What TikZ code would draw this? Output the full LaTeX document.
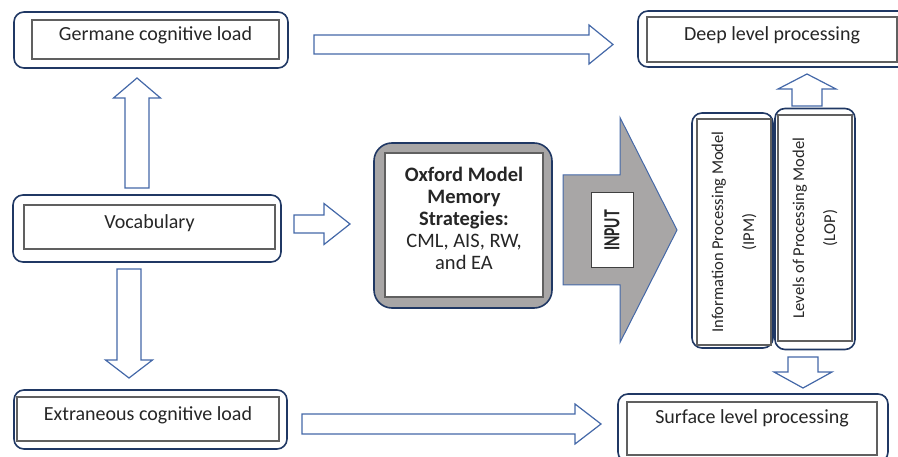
\documentclass[tikz,border=0pt]{standalone}
\usepackage{fontspec}
\setmainfont{Carlito}
\usepackage{graphicx}
\usepackage{tikz}
\usetikzlibrary{calc}
\usepackage{xcolor}
\definecolor{ColA}{RGB}{32,56,100}
\definecolor{ColB}{RGB}{68,104,168}
\definecolor{ColC}{RGB}{168,166,166}
\definecolor{ColD}{RGB}{96,96,96}
\definecolor{ColE}{RGB}{38,38,38}
\tikzstyle{OuterBox}=[draw=ColA,line width=1.6pt,rounded corners=10pt,inner sep=0pt]
\tikzstyle{InnerBox}=[draw=ColD,line width=1.3pt,fill=white,inner sep=0pt,text=ColE,
text height=12pt,text depth=9pt,font=\fontsize{20}{24}\selectfont]
\tikzstyle{TallBox}=[draw=ColD,line width=1.3pt,fill=white,inner sep=0pt,text=ColE,
rotate=90,align=center,font=\fontsize{16.5}{31}\selectfont]
\tikzstyle{BlockArrow}=[draw=ColB,line width=1.2pt,fill=white,line join=miter]
\tikzstyle{InputArrow}=[draw=ColB,line width=1pt,fill=ColC,line join=miter]
% block arrow: [style]{tail}{tip}{half shaft}{half head}{head length}
\newcommand{\BlockArr}[6][BlockArrow]{%
  \coordinate(#2#3)at($(#3)!#6!(#2)$);
  \draw[#1]($(#2)!#4!90:(#3)$)--($(#2#3)!#4!-90:(#2)$)--($(#2#3)!#5!-90:(#2)$)
    --(#3)--($(#2#3)!#5!90:(#2)$)--($(#2#3)!#4!90:(#2)$)--($(#2)!#4!-90:(#3)$)--cycle;}

\begin{document}
\begin{tikzpicture}[x=1pt,y=-1pt]
        \useasboundingbox(0,0)rectangle(898,457);
        % left column
        \node[OuterBox,minimum width=274,minimum height=56](germane)at(151,40){};
        \node[InnerBox,minimum width=247,minimum height=39](germaneIn)at(155.5,39.5){Germane cognitive load};
        \node[OuterBox,minimum width=268,minimum height=67](vocab)at(147,228.5){};
        \node[InnerBox,minimum width=251,minimum height=44](vocabIn)at(149.5,227){Vocabulary};
        \node[OuterBox,minimum width=273,minimum height=59](extra)at(150.5,419.5){};
        \node[InnerBox,minimum width=262,minimum height=44](extraIn)at(148,419){Extraneous cognitive load};
        % right column
        \node[OuterBox,minimum width=272,minimum height=56](deep)at(774,39){};
        \node[InnerBox,minimum width=250,minimum height=45](deepIn)at(772,39.5){Deep level processing};
        \node[OuterBox,minimum width=270,minimum height=68](surface)at(753,428){};
        \node[InnerBox,minimum width=250,minimum height=53,text depth=23pt](surfaceIn)at(752,428.5){Surface level processing};
        \node[OuterBox,minimum width=81,minimum height=235](ipm)at(732.5,230.5){};
        \node[TallBox,minimum width=226,minimum height=74](ipmIn)at(734,232){Information Processing Model\\(IPM)};
        \node[OuterBox,minimum width=80,minimum height=241](lop)at(815,229){};
        \node[TallBox,minimum width=226,minimum height=74](lopIn)at(815,228){Levels of Processing Model\\(LOP)};
        % middle
        \node[OuterBox,rounded corners=18pt,fill=ColC,minimum width=178,minimum height=165](oxford)at(463,225.5){};
        \node[draw=ColD,line width=1.3pt,fill=white,minimum width=158,minimum height=144](oxfordIn)at(464,225){};
        \node[text=ColE,align=center,font=\fontsize{20.5}{22}\selectfont](oxfordTxt)at(464,218){\textbf{Oxford Model}\\\textbf{Memory}\\\textbf{Strategies:}\\CML, AIS, RW,\\and EA};
        \coordinate(h1)at(563,230);
        \coordinate(h2)at(677,230);
        \BlockArr[InputArrow]{h1}{h2}{55pt}{112.5pt}{57pt}
        \node[draw=black!75,line width=1pt,fill=white,rotate=90,text=ColE,inner sep=0pt,
            font=\fontsize{23}{26}\selectfont,minimum width=75,minimum height=42](input)at(612,230.5){\scalebox{0.68}[1]{\bfseries INPUT}};
        % arrows
        \coordinate(a1)at(314,44.5);
        \coordinate(a2)at(613,44.5);
        \coordinate(b1)at(137,188);
        \coordinate(b2)at(137,78);
        \coordinate(c1)at(294,224);
        \coordinate(c2)at(350,224);
        \coordinate(d1)at(129,269);
        \coordinate(d2)at(129,378);
        \coordinate(e1)at(302,424);
        \coordinate(e2)at(601,424);
        \coordinate(f1)at(807,106);
        \coordinate(f2)at(807,74);
        \coordinate(g1)at(803,357);
        \coordinate(g2)at(803,388);
        \BlockArr{a1}{a2}{9.5pt}{19.5pt}{24pt}
        \BlockArr{b1}{b2}{12pt}{23.5pt}{20pt}
        \BlockArr{c1}{c2}{9pt}{20.5pt}{26pt}
        \BlockArr{d1}{d2}{12pt}{23.5pt}{18pt}
        \BlockArr{e1}{e2}{10pt}{20pt}{26pt}
        \BlockArr{f1}{f2}{15pt}{29pt}{15pt}
        \BlockArr{g1}{g2}{15pt}{29pt}{16pt}
    \end{tikzpicture}
\end{document}
